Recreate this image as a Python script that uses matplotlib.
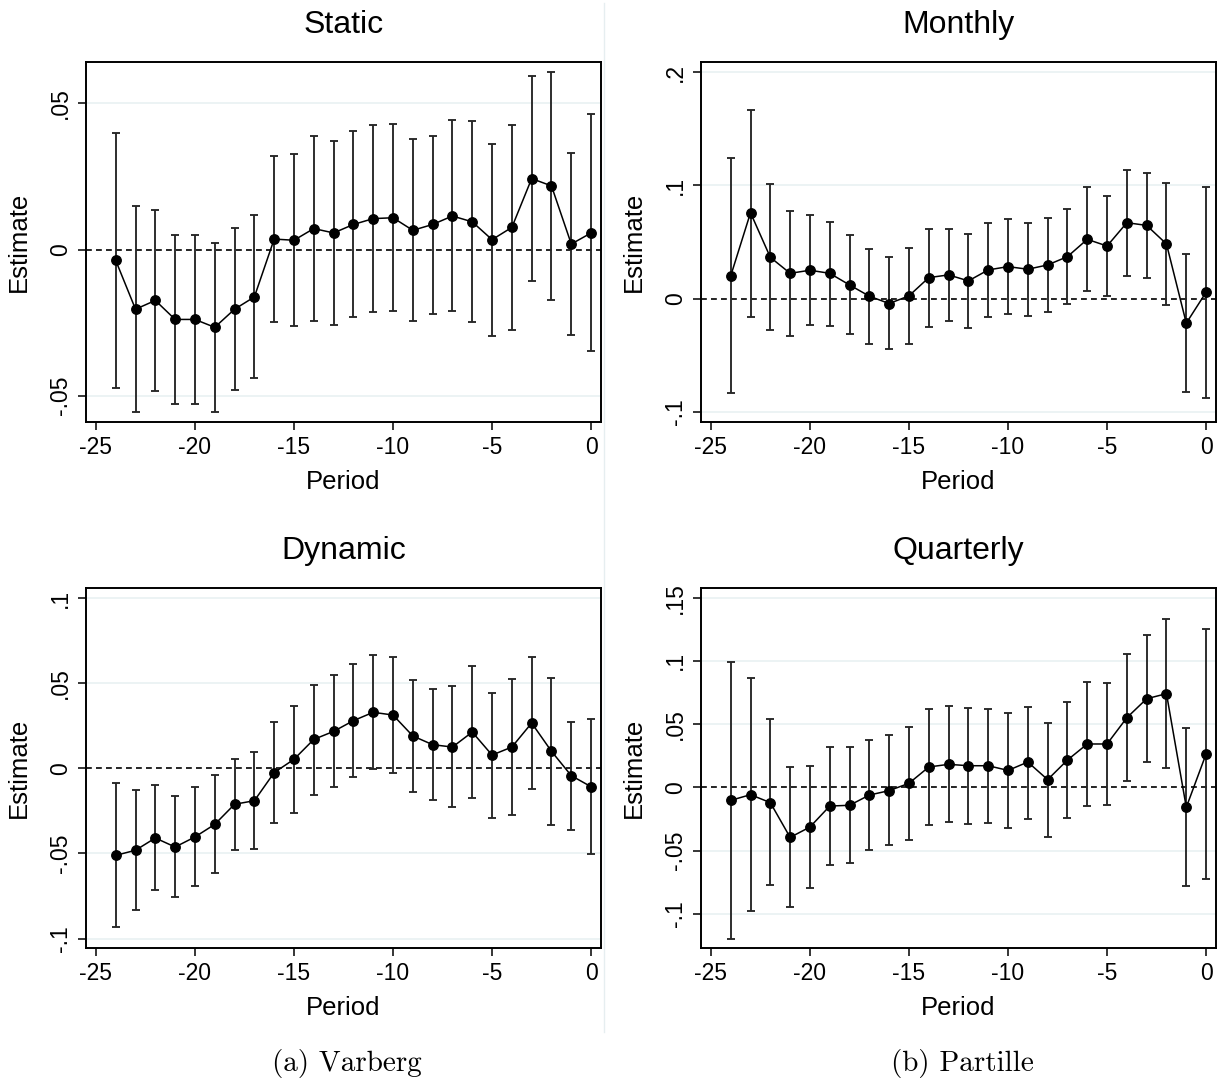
import numpy as np
import matplotlib
matplotlib.use("Agg")
import matplotlib.pyplot as plt
from matplotlib.lines import Line2D

plt.rcParams['font.family'] = ['Liberation Sans', 'DejaVu Sans']

periods = list(range(-24, 1))

# Static (Varberg)
static_est = [-0.0037, -0.0204, -0.0174, -0.0239, -0.0239, -0.0266, -0.0204, -0.0162,
              0.0036, 0.0032, 0.0072, 0.0057, 0.0086, 0.0106, 0.0109, 0.0066, 0.0086,
              0.0115, 0.0095, 0.0034, 0.0076, 0.0243, 0.0218, 0.0019, 0.0057]
static_hi = [0.0399, 0.0149, 0.0135, 0.0051, 0.0049, 0.0024, 0.0073, 0.0117,
             0.0322, 0.0327, 0.0389, 0.0373, 0.0405, 0.0428, 0.0431, 0.0377, 0.0389,
             0.0442, 0.0439, 0.0361, 0.0428, 0.0595, 0.0609, 0.0331, 0.0464]
static_lo = [-0.0473, -0.0556, -0.0483, -0.0528, -0.0530, -0.0555, -0.0480, -0.0439,
             -0.0247, -0.0262, -0.0243, -0.0258, -0.0231, -0.0213, -0.0210, -0.0244, -0.0219,
             -0.0210, -0.0249, -0.0294, -0.0275, -0.0108, -0.0172, -0.0292, -0.0348]

# Monthly (Partille)
monthly_est = [0.0200, 0.0758, 0.0364, 0.0223, 0.0250, 0.0223, 0.0120, 0.0021,
               -0.0044, 0.0024, 0.0185, 0.0209, 0.0156, 0.0253, 0.0282, 0.0259, 0.0297,
               0.0370, 0.0523, 0.0464, 0.0670, 0.0646, 0.0482, -0.0217, 0.0056]
monthly_hi = [0.1237, 0.1669, 0.1014, 0.0776, 0.0738, 0.0679, 0.0558, 0.0441,
              0.0370, 0.0444, 0.0617, 0.0617, 0.0570, 0.0670, 0.0705, 0.0667, 0.0708,
              0.0788, 0.0981, 0.0908, 0.1134, 0.1105, 0.1023, 0.0394, 0.0987]
monthly_lo = [-0.0835, -0.0159, -0.0282, -0.0329, -0.0232, -0.0238, -0.0309, -0.0400,
              -0.0447, -0.0400, -0.0247, -0.0197, -0.0262, -0.0165, -0.0138, -0.0150, -0.0115,
              -0.0047, 0.0068, 0.0021, 0.0203, 0.0185, -0.0059, -0.0829, -0.0882]

# Dynamic (Varberg)
dynamic_est = [-0.0511, -0.0481, -0.0409, -0.0462, -0.0403, -0.0329, -0.0211, -0.0190,
               -0.0025, 0.0053, 0.0170, 0.0217, 0.0280, 0.0329, 0.0313, 0.0190, 0.0139,
               0.0125, 0.0213, 0.0078, 0.0125, 0.0266, 0.0100, -0.0043, -0.0108]
dynamic_hi = [-0.0088, -0.0127, -0.0100, -0.0164, -0.0112, -0.0041, 0.0055, 0.0096,
              0.0274, 0.0364, 0.0491, 0.0546, 0.0613, 0.0663, 0.0652, 0.0519, 0.0468,
              0.0483, 0.0601, 0.0442, 0.0524, 0.0656, 0.0530, 0.0272, 0.0292]
dynamic_lo = [-0.0933, -0.0830, -0.0714, -0.0755, -0.0693, -0.0614, -0.0479, -0.0472,
              -0.0321, -0.0260, -0.0155, -0.0112, -0.0053, -0.0004, -0.0027, -0.0139, -0.0186,
              -0.0229, -0.0174, -0.0290, -0.0276, -0.0121, -0.0333, -0.0360, -0.0505]

# Quarterly (Partille)
quarterly_est = [-0.0103, -0.0058, -0.0121, -0.0396, -0.0314, -0.0148, -0.0142, -0.0061,
                 -0.0026, 0.0032, 0.0161, 0.0182, 0.0171, 0.0171, 0.0134, 0.0200, 0.0061,
                 0.0216, 0.0343, 0.0343, 0.0551, 0.0701, 0.0741, -0.0158, 0.0264]
quarterly_hi = [0.0994, 0.0865, 0.0538, 0.0161, 0.0169, 0.0322, 0.0322, 0.0377,
                0.0411, 0.0480, 0.0617, 0.0646, 0.0630, 0.0622, 0.0591, 0.0638, 0.0512,
                0.0678, 0.0833, 0.0828, 0.1057, 0.1208, 0.1334, 0.0469, 0.1253]
quarterly_lo = [-0.1197, -0.0981, -0.0775, -0.0949, -0.0796, -0.0612, -0.0596, -0.0498,
                -0.0459, -0.0417, -0.0295, -0.0274, -0.0287, -0.0282, -0.0322, -0.0248, -0.0393,
                -0.0245, -0.0148, -0.0142, 0.0047, 0.0198, 0.0150, -0.0783, -0.0723]

x_ticks = [-25, -20, -15, -10, -5, 0]
static_yticks = [-0.05, 0, 0.05]
static_ylabels = ['-.05', '0', '.05']
monthly_yticks = [-0.1, 0, 0.1, 0.2]
monthly_ylabels = ['-.1', '0', '.1', '.2']
dynamic_yticks = [-0.1, -0.05, 0, 0.05, 0.1]
dynamic_ylabels = ['-.1', '-.05', '0', '.05', '.1']
quarterly_yticks = [-0.1, -0.05, 0, 0.05, 0.1, 0.15]
quarterly_ylabels = ['-.1', '-.05', '0', '.05', '.1', '.15']

W, H = 1217, 1083
fig = plt.figure(figsize=(W / 100, H / 100), dpi=100)


def make_axes(left, top, right, bottom):
    return fig.add_axes([left / W, 1 - bottom / H, (right - left) / W, (bottom - top) / H])


def draw_panel(ax, title, est, hi, lo, yticks, ylabels, ylim):
    est = np.array(est)
    yerr = [est - np.array(lo), np.array(hi) - est]
    for yt in yticks:
        if yt != 0:
            ax.axhline(yt, color='#eaf2f3', lw=1.3, zorder=0)
    ax.axhline(0, color='black', lw=1.2, ls=(0, (3.5, 2.5)), zorder=1)
    ax.errorbar(periods, est, yerr=yerr, fmt='none', ecolor='#262626',
                elinewidth=1.35, capsize=3.0, capthick=1.35, zorder=2)
    ax.plot(periods, est, color='black', lw=1.1, marker='o', markersize=6.8, zorder=3)
    ax.set_xlim(-25.5, 0.5)
    ax.set_ylim(*ylim)
    ax.set_xticks(x_ticks)
    ax.set_xticklabels([str(t) for t in x_ticks])
    ax.set_yticks(yticks)
    ax.set_yticklabels(ylabels, rotation=90, va='center')
    ax.tick_params(axis='both', direction='out', length=6, width=1.1, labelsize=16.5,
                   color='black', pad=4)
    for sp in ax.spines.values():
        sp.set_linewidth(1.4)
        sp.set_color('black')
    ax.set_title(title, fontsize=23, pad=21)
    ax.set_xlabel('Period', fontsize=18.5)
    ax.set_ylabel('Estimate', fontsize=18.5)
    ax.xaxis.set_label_coords(0.5, -0.133)
    ax.yaxis.set_label_coords(-0.108, 0.5)


ax1 = make_axes(86, 62, 601, 422)
draw_panel(ax1, 'Static', static_est, static_hi, static_lo,
           static_yticks, static_ylabels, (-0.059, 0.0642))
ax2 = make_axes(701, 62, 1216, 422)
draw_panel(ax2, 'Monthly', monthly_est, monthly_hi, monthly_lo,
           monthly_yticks, monthly_ylabels, (-0.109, 0.2089))
ax3 = make_axes(86, 588, 601, 948)
draw_panel(ax3, 'Dynamic', dynamic_est, dynamic_hi, dynamic_lo,
           dynamic_yticks, dynamic_ylabels, (-0.1055, 0.1059))
ax4 = make_axes(701, 588, 1216, 948)
draw_panel(ax4, 'Quarterly', quarterly_est, quarterly_hi, quarterly_lo,
           quarterly_yticks, quarterly_ylabels, (-0.1271, 0.1577))

# thin separator between the two columns
fig.add_artist(Line2D([604 / W, 604 / W], [1 - 3 / H, 1 - 1032 / H],
                      color='#e6eef0', lw=1))

fig.text(347 / W, 1 - 1064 / H, '(a) Varberg', fontsize=21, family='cmr10',
         ha='center', va='center')
fig.text(962 / W, 1 - 1064 / H, '(b) Partille', fontsize=21, family='cmr10',
         ha='center', va='center')

fig.savefig('out.png', dpi=100)
